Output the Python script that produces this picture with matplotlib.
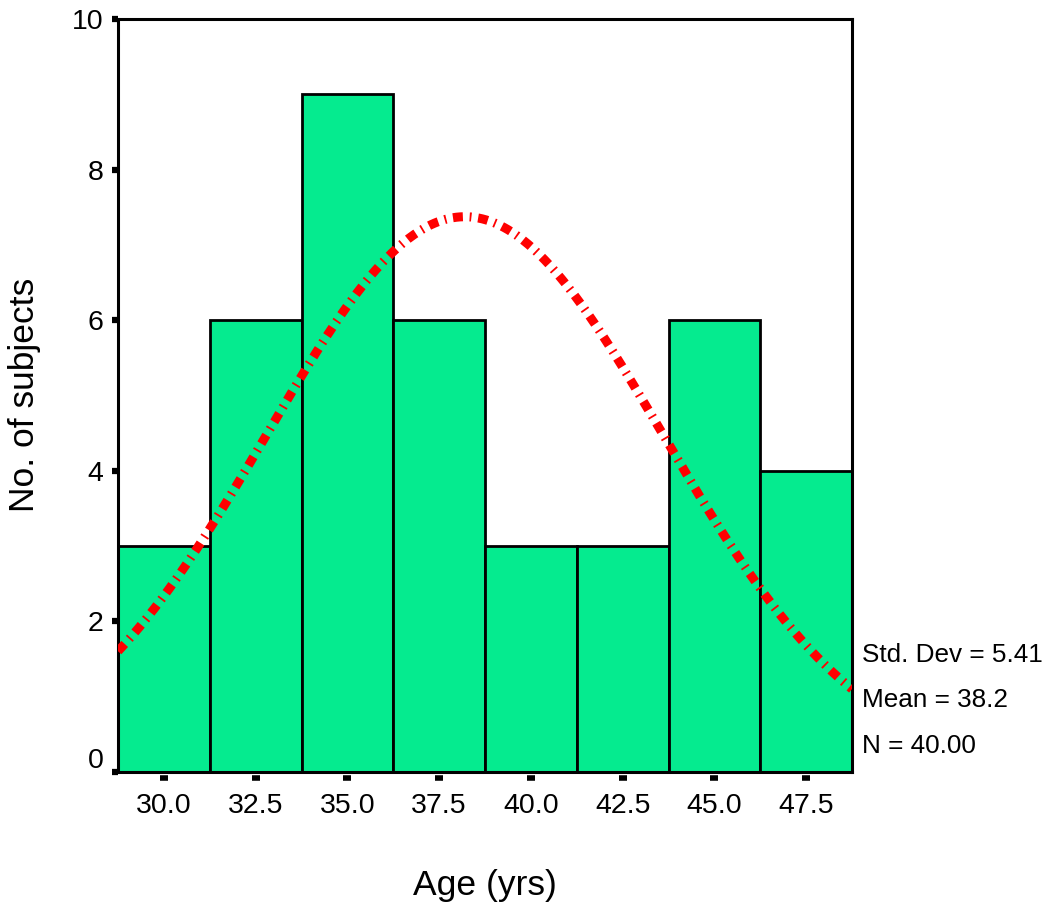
import numpy as np
import matplotlib
matplotlib.use("Agg")
import matplotlib.pyplot as plt
import matplotlib.transforms as mtransforms

plt.rcParams['font.family'] = ['Liberation Sans', 'DejaVu Sans']

bin_centers = [30.0, 32.5, 35.0, 37.5, 40.0, 42.5, 45.0, 47.5]
counts = [3, 6, 9, 6, 3, 3, 6, 4]
bin_width = 2.5
tick_labels = ["30.0", "32.5", "35.0", "37.5", "40.0", "42.5", "45.0", "47.5"]
y_ticks = [0, 2, 4, 6, 8, 10]
std_dev = 5.41
mean = 38.2
n_total = 40

fig = plt.figure(figsize=(10.49, 9.07), dpi=100)
ax = fig.add_axes([118/1049, 1-772/907, (852-118)/1049, (772-19)/907])

ax.bar(bin_centers, counts, width=bin_width, color='#05EB8F', edgecolor='black', linewidth=2, zorder=2)

xs = np.linspace(bin_centers[0]-bin_width/2, bin_centers[-1]+bin_width/2, 400)
ys = n_total*bin_width/(std_dev*np.sqrt(2*np.pi))*np.exp(-0.5*((xs-mean)/std_dev)**2)
ax.plot(xs, ys, color='#FF0000', lw=6.5, linestyle=(0, (1.1, 0.75, 0.2, 0.75)), zorder=3,
        dash_capstyle='butt')

ax.set_xlim(bin_centers[0]-bin_width/2, bin_centers[-1]+bin_width/2)
ax.set_ylim(0, 10)
for s in ax.spines.values():
    s.set_linewidth(2.2)

ax.set_yticks(y_ticks)
ax.set_yticklabels([str(v) for v in y_ticks], fontsize=20.5)
ax.tick_params(axis='y', direction='out', length=4.5, width=4.5, pad=6, color='black')
lbl0 = ax.get_yticklabels()[0]
lbl0.set_transform(lbl0.get_transform() + mtransforms.ScaledTranslation(0, 14/100, fig.dpi_scale_trans))

ax.set_xticks(bin_centers)
ax.set_xticklabels(tick_labels, fontsize=20.5)
ax.tick_params(axis='x', length=0, pad=15)
trans = mtransforms.blended_transform_factory(ax.transData, ax.transAxes)
ax.plot(bin_centers, [-0.0075]*len(bin_centers), linestyle='none', marker='_', markersize=6, mew=4,
        color='black', transform=trans, clip_on=False)

fig.text(485/1049, 1-885/907, "Age (yrs)", fontsize=25.5, ha='center', va='center')
fig.text(25/1049, 1-395/907, "No. of subjects", fontsize=25.5, ha='center', va='center', rotation=90)

fig.text(862/1049, 1-655/907, f"Std. Dev = {std_dev:.2f}", fontsize=18.8, va='center', ha='left')
fig.text(862/1049, 1-700/907, f"Mean = {mean:.1f}", fontsize=18.8, va='center', ha='left')
fig.text(862/1049, 1-746/907, f"N = {n_total:.2f}", fontsize=18.8, va='center', ha='left')

fig.savefig("out.png", dpi=100)
